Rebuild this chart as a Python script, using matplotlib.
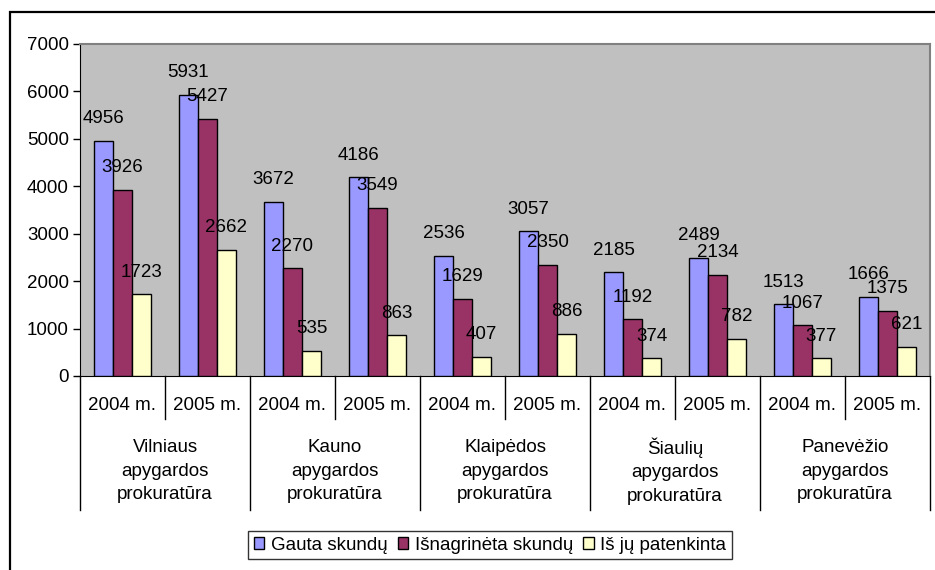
import matplotlib.pyplot as plt
import matplotlib.transforms as mtransforms
from matplotlib.patches import Rectangle
import numpy as np

plt.rcParams['font.family'] = ['Liberation Sans', 'DejaVu Sans']

# Data
years = ["2004 m.", "2005 m."]
groups = ["Vilniaus\napygardos\nprokuratūra", "Kauno\napygardos\nprokuratūra",
          "Klaipėdos\napygardos\nprokuratūra", "Šiaulių\napygardos\nprokuratūra",
          "Panevėžio\napygardos\nprokuratūra"]
series_names = ["Gauta skundų", "Išnagrinėta skundų", "Iš jų patenkinta"]
gauta = [4956, 5931, 3672, 4186, 2536, 3057, 2185, 2489, 1513, 1666]
isnagrineta = [3926, 5427, 2270, 3549, 1629, 2350, 1192, 2134, 1067, 1375]
patenkinta = [1723, 2662, 535, 863, 407, 886, 374, 782, 377, 621]
colors = ["#9999FF", "#993366", "#FFFFCC"]

FS = 13.5
W, H = 935, 570
fig = plt.figure(figsize=(W / 100, H / 100), dpi=100)

# outer chart border
fig.patches.append(Rectangle((10 / W, -0.2), 1.2, 1.2 - 12 / H, transform=fig.transFigure,
                             fill=False, edgecolor="black", linewidth=1.6))

ax_l, ax_t, ax_r, ax_b = 80, 44, 930, 376
ax = fig.add_axes([ax_l / W, 1 - ax_b / H, (ax_r - ax_l) / W, (ax_b - ax_t) / H])
ax.set_facecolor("#C0C0C0")
ax_h = ax_b - ax_t

x = np.arange(len(gauta))
bw = 19 / 85
for k, vals in enumerate([gauta, isnagrineta, patenkinta]):
    pos = x + (k - 1) * bw
    ax.bar(pos, vals, width=bw, color=colors[k], edgecolor="black", linewidth=1.0,
           label=series_names[k], zorder=3)
    for xp, v in zip(pos, vals):
        ax.annotate(str(v), (xp, v), xytext=(0, 22), textcoords="offset pixels",
                    ha="center", va="center", fontsize=FS, zorder=4)

ax.set_xlim(-0.5, len(gauta) - 0.5)
ax.set_ylim(0, 7000)
ax.set_yticks(np.arange(0, 7001, 1000))
ax.tick_params(axis="y", labelsize=FS, length=5, width=1, direction="out", pad=3)
ax.set_xticks([])
for s in ["top", "right"]:
    ax.spines[s].set_color("#808080")
    ax.spines[s].set_linewidth(1.5)
ax.spines["left"].set_color("black")
ax.spines["bottom"].set_color("black")

# multi-level category axis
trans = mtransforms.blended_transform_factory(ax.transData, ax.transAxes)
for i in range(len(gauta) + 1):
    xb = i - 0.5
    depth = 134 if i % 2 == 0 else 43
    ax.plot([xb, xb], [0, -depth / ax_h], transform=trans, color="black",
            linewidth=1, clip_on=False)
for i in range(len(gauta)):
    ax.text(i, -29 / ax_h, years[i % 2], transform=trans, ha="center", va="center",
            fontsize=FS)
for g, name in enumerate(groups):
    ax.text(2 * g + 0.5, -95 / ax_h, name, transform=trans, ha="center", va="center",
            fontsize=FS, linespacing=1.5)

leg = fig.legend(loc="center", bbox_to_anchor=(490 / W, 1 - 545 / H), ncol=3,
                 fontsize=FS, frameon=True, fancybox=False, handlelength=0.55,
                 handleheight=0.55, handletextpad=0.35, columnspacing=0.55,
                 borderpad=0.3, borderaxespad=0)
leg.get_frame().set_edgecolor("black")
leg.get_frame().set_linewidth(1)

fig.savefig("out.png", dpi=100)
